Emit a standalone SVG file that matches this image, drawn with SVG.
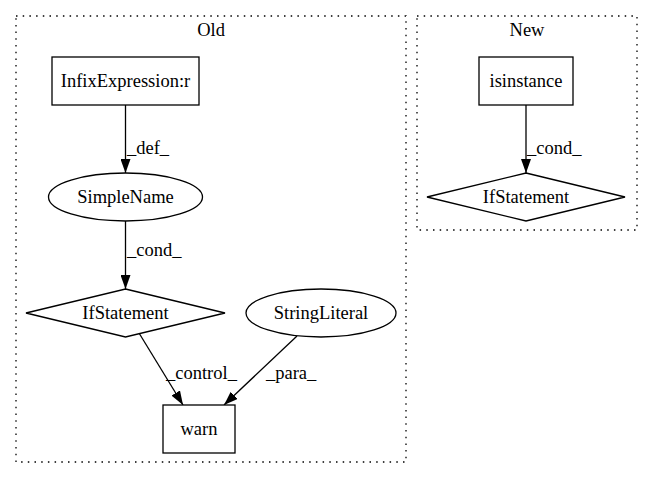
<svg xmlns="http://www.w3.org/2000/svg" width="652" height="480" viewBox="0 0 652 480">
<style>
text{font-family:"Liberation Serif","Times New Roman",serif;font-size:18.5px;fill:#000}
.c{fill:none;stroke:#000;stroke-dasharray:1.5,5.2;stroke-width:1.3}
.n{fill:#fff;stroke:#000;stroke-width:1.3}
.e{fill:none;stroke:#000;stroke-width:1.3}
.m{text-anchor:middle}
</style>
<defs>
<marker id="ah" markerWidth="14" markerHeight="10" refX="14" refY="5" orient="auto" markerUnits="userSpaceOnUse">
<path d="M0,0 L14,5 L0,10 Z" fill="#000"/>
</marker>
</defs>
<rect width="652" height="480" fill="#fff"/>
<g id="cluster_old">
<rect class="c" x="16" y="16" width="390" height="446"/>
<text class="m" x="211" y="36">Old</text>
</g>
<g id="cluster_new">
<rect class="c" x="417" y="16" width="220" height="214"/>
<text class="m" x="527" y="36">New</text>
</g>
<g id="edges">
<path class="e" d="M125.5,105 L125.5,173" marker-end="url(#ah)"/>
<text x="127" y="154">_def_</text>
<path class="e" d="M125.5,221 L125.5,289" marker-end="url(#ah)"/>
<text x="127" y="256">_cond_</text>
<path class="e" d="M139,333 L183,405" marker-end="url(#ah)"/>
<text x="166" y="379">_control_</text>
<path class="e" d="M297,336 L224,405" marker-end="url(#ah)"/>
<text x="266" y="379">_para_</text>
<path class="e" d="M526,105 L526,173" marker-end="url(#ah)"/>
<text x="527" y="154">_cond_</text>
</g>
<g id="n_infix">
<rect class="n" x="52" y="57" width="147" height="48"/>
<text class="m" x="125.5" y="87">InfixExpression:r</text>
</g>
<g id="n_simplename">
<ellipse class="n" cx="125.5" cy="197" rx="77" ry="24"/>
<text class="m" x="125.5" y="203">SimpleName</text>
</g>
<g id="n_if_old">
<polygon class="n" points="125.5,289 225,313 125.5,337 26,313"/>
<text class="m" x="125.5" y="319">IfStatement</text>
</g>
<g id="n_string">
<ellipse class="n" cx="321" cy="313" rx="75" ry="24"/>
<text class="m" x="321" y="319">StringLiteral</text>
</g>
<g id="n_warn">
<rect class="n" x="163" y="405" width="72" height="48"/>
<text class="m" x="199" y="435">warn</text>
</g>
<g id="n_isinstance">
<rect class="n" x="479" y="57" width="94" height="48"/>
<text class="m" x="526" y="87">isinstance</text>
</g>
<g id="n_if_new">
<polygon class="n" points="526,173 625,197 526,221 427,197"/>
<text class="m" x="526" y="203">IfStatement</text>
</g>
</svg>
